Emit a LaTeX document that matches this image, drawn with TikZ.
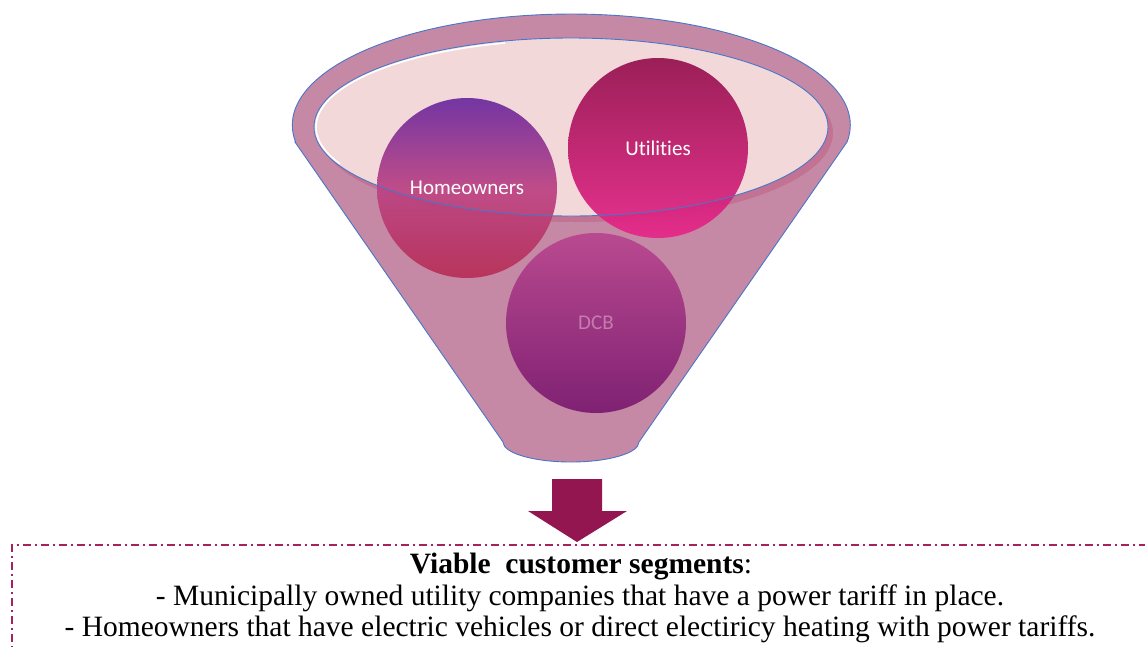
\documentclass[tikz,border=0pt]{standalone}
\usepackage{fontspec}
\setmainfont{Liberation Serif}
\newfontfamily\labelfont[Ligatures=NoCommon]{Carlito}
\definecolor{funnelbody}{RGB}{198,137,165}
\definecolor{funnelrim}{RGB}{194,115,147}
\definecolor{funneltop}{RGB}{243,216,218}
\definecolor{outlineblue}{RGB}{72,118,200}
\definecolor{arrowwine}{RGB}{147,22,81}
\definecolor{boxline}{RGB}{168,32,95}
\definecolor{homeTop}{RGB}{108,44,160}
\definecolor{homeMid}{RGB}{188,68,132}
\definecolor{homeBot}{RGB}{184,48,88}
\definecolor{utilTop}{RGB}{150,20,80}
\definecolor{utilBot}{RGB}{230,40,138}
\definecolor{dcbTop}{RGB}{185,70,143}
\definecolor{dcbBot}{RGB}{123,27,112}
\definecolor{dcbText}{RGB}{196,124,172}
\begin{document}
\begin{tikzpicture}[x=1pt,y=-1pt,
  segment/.style={circle,minimum size=180pt,inner sep=0pt,fill opacity=0.94,text opacity=1,
    font=\labelfont\fontsize{21}{25}\selectfont,text=white},
  edge/.style={draw=outlineblue,line width=0.9pt},
  caption/.style={anchor=base,font=\fontsize{29.5}{33}\selectfont,inner sep=0pt}]
\useasboundingbox (0,0) rectangle (1145,646);
\clip (0,0) rectangle (1145,646);

% funnel body: outer rim, straight sides and rounded spout
\path[fill=funnelbody,edge] (295,142) -- (503,442)
  arc[start angle=180,end angle=0,x radius=68,y radius=20] -- (847,142)
  arc[start angle=8.8,end angle=-188.8,x radius=279,y radius=111] -- cycle;

% opening of the funnel
\fill[funnelrim] (576,133) ellipse[x radius=257,y radius=89];
\fill[funneltop] (571,127) ellipse[x radius=257,y radius=89];
\draw[white,line width=1.6pt] (571,127) ++(155:255 and 87)
  arc[start angle=155,end angle=255,x radius=255,y radius=87];

% segments collected in the funnel
\node[segment,top color=homeTop,bottom color=homeBot,middle color=homeMid] (home) at (467,188) {Homeowners};
\node[segment,top color=utilTop,bottom color=utilBot] (util) at (658,148) {Utilities};
\node[segment,top color=dcbTop,bottom color=dcbBot,text=dcbText] (dcb) at (596,323) {DCB};

\draw[edge] (571,127) ellipse[x radius=257,y radius=89];

% block arrow down to the result
\coordinate (spout) at (577,479);
\fill[arrowwine] (spout) ++(-25,0) -- ++(50,0) -- ++(0,32) -- ++(25,0) -- (577,542) -- (528,511) -- (552,511) -- cycle;

% result box
\draw[boxline,line width=1.5pt,dash pattern=on 8pt off 4pt on 2pt off 4pt]
  (12,660) -- (12,545) -- (1160,545);
\node[caption] (title) at (581,573) {\textbf{Viable\ \ customer segments}:};
\node[caption] (seg1) at (580,605) {- Municipally owned utility companies that have a power tariff in place.};
\node[caption] (seg2) at (580,636) {- Homeowners that have electric vehicles or direct electiricy heating with power tariffs.};
\end{tikzpicture}
\end{document}
